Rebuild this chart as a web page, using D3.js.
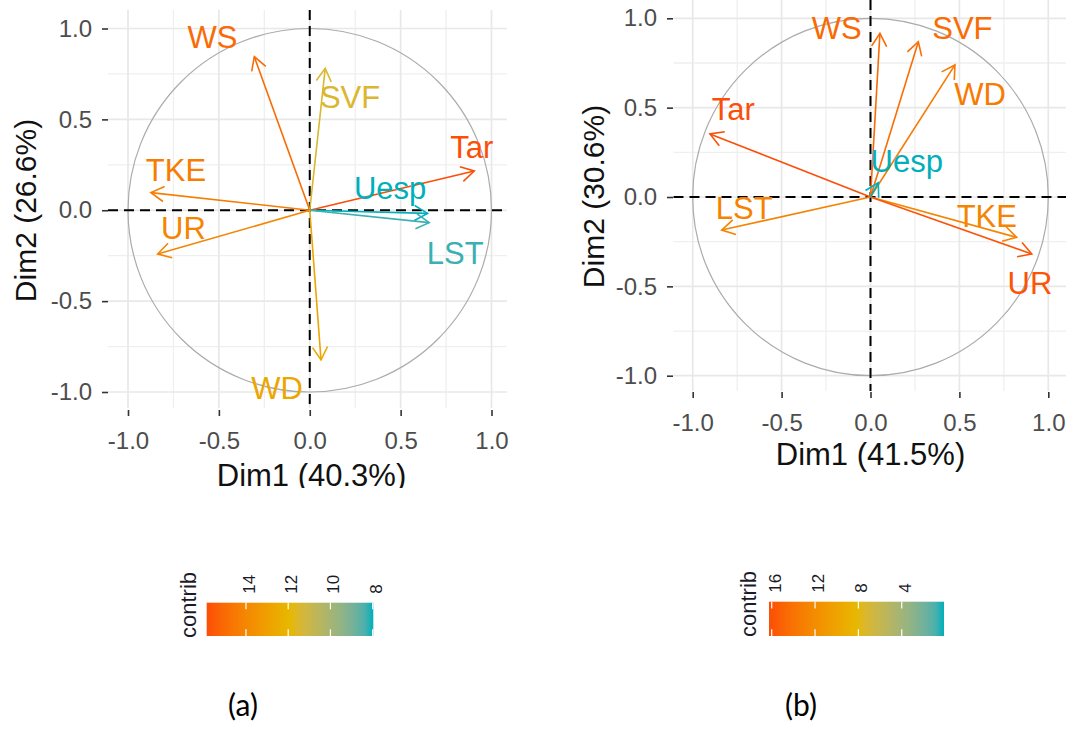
<!DOCTYPE html>
<html>
<head>
<meta charset="utf-8">
<script src="https://cdn.jsdelivr.net/npm/d3@7"></script>
<style>
  html, body { margin: 0; padding: 0; background: #fff; }
  svg { display: block; }
</style>
</head>
<body>
<svg id="chart" width="1066" height="753"></svg>
<script>
// ---- Variable correlation circles, PCA Dim1 x Dim2 ----
const axisTicks = [-1, -0.5, 0, 0.5, 1];
const axisTickLabels = ["-1.0", "-0.5", "0.0", "0.5", "1.0"];
const minorTicks = [-0.75, -0.25, 0.25, 0.75];

// Panel (a)
const varsA     = ["WS", "SVF", "Tar", "TKE", "UR", "Uesp", "LST", "WD"];
const dim1A     = [-0.305, 0.085, 0.905, -0.874, -0.837, 0.648, 0.657, 0.062];
const dim2A     = [0.845, 0.781, 0.216, 0.097, -0.241, -0.017, -0.068, -0.824];
const contribA  = [15.0, 11.5, 15.86, 14.4, 14.1, 7.97, 8.2, 12.7];
const labelDim1A = [-0.535, 0.222, 0.891, -0.736, -0.695, 0.442, 0.800, -0.180];
const labelDim2A = [0.953, 0.625, 0.348, 0.221, -0.095, 0.122, -0.237, -0.978];
const xTitleA = "Dim1 (40.3%)";
const yTitleA = "Dim2 (26.6%)";
const legendTicksA = [14, 12, 10, 8];

// Panel (b)
const varsB     = ["WS", "SVF", "WD", "Tar", "LST", "TKE", "UR", "Uesp"];
const dim1B     = [0.053, 0.269, 0.475, -0.903, -0.837, 0.822, 0.907, 0.044];
const dim2B     = [0.916, 0.869, 0.739, 0.353, -0.185, -0.226, -0.319, 0.080];
const contribB  = [14.6, 14.35, 13.4, 16.25, 12.75, 12.6, 15.9, 0.1];
const labelDim1B = [-0.190, 0.517, 0.616, -0.772, -0.710, 0.654, 0.897, 0.204];
const labelDim2B = [0.949, 0.949, 0.575, 0.491, -0.059, -0.105, -0.478, 0.204];
const xTitleB = "Dim1 (41.5%)";
const yTitleB = "Dim2 (30.6%)";
const legendTicksB = [16, 12, 8, 4];

const gradientColors = ["#00AFBB", "#E7B800", "#FC4E07"];
const captions = ["(a)", "(b)"];

const FONT = "'Liberation Sans', Arial, sans-serif";
const svg = d3.select("#chart");
const defs = svg.append("defs");

// Page geometry of each figure
const layouts = [
  {
    xRange: [128, 491.5], yRange: [392, 28.5],
    panel: { left: 108, right: 507, top: 10, bottom: 408 },
    xAxisY: 410, yAxisX: 108,
    xTitle: { x: 311.5, y: 486 }, yTitle: { x: 36, y: 210.5 },
    legend: { x0: 206.7, x1: 373.3, y0: 602.7, y1: 636, titleX: 196, titleY: 638 },
    clip: { x: 0, y: 0, w: 540, h: 488 },
    caption: { x: 243, y: 716 }
  },
  {
    xRange: [692.7, 1048.3], yRange: [375.7, 18.3],
    panel: { left: 673.5, right: 1066, top: 0, bottom: 391 },
    xAxisY: 392, yAxisX: 673,
    xTitle: { x: 870.5, y: 465 }, yTitle: { x: 604, y: 196.5 },
    legend: { x0: 769, x1: 944, y0: 601.7, y1: 636, titleX: 756, titleY: 637 },
    clip: { x: 540, y: 0, w: 526, h: 560 },
    caption: { x: 801, y: 716 }
  }
];

const datasets = [
  { vars: varsA, d1: dim1A, d2: dim2A, contrib: contribA, lx: labelDim1A, ly: labelDim2A,
    xTitle: xTitleA, yTitle: yTitleA, legendTicks: legendTicksA },
  { vars: varsB, d1: dim1B, d2: dim2B, contrib: contribB, lx: labelDim1B, ly: labelDim2B,
    xTitle: xTitleB, yTitle: yTitleB, legendTicks: legendTicksB }
];

const tickLabel = d => axisTickLabels[axisTicks.indexOf(d)];

datasets.forEach((ds, i) => {
  const L = layouts[i];
  const clipId = "clip" + i;
  defs.append("clipPath").attr("id", clipId)
    .append("rect").attr("x", L.clip.x).attr("y", L.clip.y)
    .attr("width", L.clip.w).attr("height", L.clip.h);
  const g = svg.append("g").attr("clip-path", `url(#${clipId})`);

  const x = d3.scaleLinear().domain([-1, 1]).range(L.xRange);
  const y = d3.scaleLinear().domain([-1, 1]).range(L.yRange);
  const P = L.panel;

  const [cMin, cMax] = d3.extent(ds.contrib);
  const color = d3.scaleLinear()
    .domain([cMin, (cMin + cMax) / 2, cMax])
    .range(gradientColors)
    .interpolate(d3.interpolateLab);

  // grid
  const grid = g.append("g");
  grid.selectAll(".vminor").data(minorTicks).join("line")
    .attr("x1", d => x(d)).attr("x2", d => x(d)).attr("y1", P.top).attr("y2", P.bottom)
    .attr("stroke", "#EFEFEF").attr("stroke-width", 1.3);
  grid.selectAll(".hminor").data(minorTicks).join("line")
    .attr("y1", d => y(d)).attr("y2", d => y(d)).attr("x1", P.left).attr("x2", P.right)
    .attr("stroke", "#EFEFEF").attr("stroke-width", 1.3);
  grid.selectAll(".vmajor").data(axisTicks).join("line")
    .attr("x1", d => x(d)).attr("x2", d => x(d)).attr("y1", P.top).attr("y2", P.bottom)
    .attr("stroke", "#E8E8E8").attr("stroke-width", 1.7);
  grid.selectAll(".hmajor").data(axisTicks).join("line")
    .attr("y1", d => y(d)).attr("y2", d => y(d)).attr("x1", P.left).attr("x2", P.right)
    .attr("stroke", "#E8E8E8").attr("stroke-width", 1.7);

  // unit circle
  g.append("ellipse")
    .attr("cx", x(0)).attr("cy", y(0))
    .attr("rx", x(1) - x(0)).attr("ry", y(0) - y(1))
    .attr("fill", "none").attr("stroke", "#ABABAB").attr("stroke-width", 1.2);

  // reference lines at zero
  g.append("line").attr("x1", P.left).attr("x2", P.right).attr("y1", y(0)).attr("y2", y(0))
    .attr("stroke", "#000").attr("stroke-width", 2).attr("stroke-dasharray", "10,6");
  g.append("line").attr("y1", P.top).attr("y2", P.bottom).attr("x1", x(0)).attr("x2", x(0))
    .attr("stroke", "#000").attr("stroke-width", 2).attr("stroke-dasharray", "10,6");

  // axes
  const xAxis = d3.axisBottom(x).tickValues(axisTicks).tickFormat(tickLabel)
    .tickSize(6).tickPadding(16);
  const yAxis = d3.axisLeft(y).tickValues(axisTicks).tickFormat(tickLabel)
    .tickSize(6).tickPadding(10);
  const gx = g.append("g").attr("transform", `translate(0,${L.xAxisY})`).call(xAxis);
  const gy = g.append("g").attr("transform", `translate(${L.yAxisX},0)`).call(yAxis);
  [gx, gy].forEach(a => {
    a.select(".domain").remove();
    a.selectAll(".tick line").attr("stroke", "#333").attr("stroke-width", 1.6);
    a.selectAll(".tick text").attr("fill", "#4D4D4D")
      .style("font-family", FONT).style("font-size", "24px");
  });

  // axis titles
  g.append("text").attr("x", L.xTitle.x).attr("y", L.xTitle.y)
    .attr("text-anchor", "middle").attr("fill", "#111")
    .style("font-family", FONT).style("font-size", "31px").text(ds.xTitle);
  g.append("text")
    .attr("transform", `translate(${L.yTitle.x},${L.yTitle.y}) rotate(-90)`)
    .attr("text-anchor", "middle").attr("fill", "#111")
    .style("font-family", FONT).style("font-size", "30px").text(ds.yTitle);

  // arrows
  const idx = d3.range(ds.vars.length);
  const headLen = 15, headAngle = Math.PI / 6;
  const arrows = g.append("g");
  idx.forEach(k => {
    const x0 = x(0), y0 = y(0), x1 = x(ds.d1[k]), y1 = y(ds.d2[k]);
    const ang = Math.atan2(y1 - y0, x1 - x0);
    const c = color(ds.contrib[k]);
    arrows.append("line")
      .attr("x1", x0).attr("y1", y0).attr("x2", x1).attr("y2", y1)
      .attr("stroke", c).attr("stroke-width", 1.6);
    const bx1 = x1 - headLen * Math.cos(ang - headAngle);
    const by1 = y1 - headLen * Math.sin(ang - headAngle);
    const bx2 = x1 - headLen * Math.cos(ang + headAngle);
    const by2 = y1 - headLen * Math.sin(ang + headAngle);
    arrows.append("path")
      .attr("d", `M${bx1},${by1}L${x1},${y1}L${bx2},${by2}`)
      .attr("fill", "none").attr("stroke", c).attr("stroke-width", 1.6)
      .attr("stroke-linejoin", "miter");
  });

  // variable labels
  const labelSize = 31;
  g.append("g").selectAll("text").data(idx).join("text")
    .attr("x", k => x(ds.lx[k]))
    .attr("y", k => y(ds.ly[k]) + 0.358 * labelSize)
    .attr("text-anchor", "middle")
    .attr("fill", k => color(ds.contrib[k]))
    .style("font-family", FONT).style("font-size", labelSize + "px")
    .text(k => ds.vars[k]);

  // colour bar legend (max on the left)
  const Lg = L.legend;
  const lx = d3.scaleLinear().domain([cMax, cMin]).range([Lg.x0, Lg.x1]);
  const gradId = "grad" + i;
  const grad = defs.append("linearGradient").attr("id", gradId)
    .attr("x1", "0%").attr("x2", "100%").attr("y1", "0%").attr("y2", "0%");
  d3.range(0, 1.0001, 0.05).forEach(t => {
    grad.append("stop").attr("offset", (t * 100) + "%")
      .attr("stop-color", color(cMax + (cMin - cMax) * t));
  });
  const lg = svg.append("g");
  lg.append("rect").attr("x", Lg.x0).attr("y", Lg.y0)
    .attr("width", Lg.x1 - Lg.x0).attr("height", Lg.y1 - Lg.y0)
    .attr("fill", `url(#${gradId})`);
  const barH = Lg.y1 - Lg.y0;
  ds.legendTicks.forEach(v => {
    const px = lx(v);
    lg.append("line").attr("x1", px).attr("x2", px)
      .attr("y1", Lg.y0).attr("y2", Lg.y0 + barH / 5)
      .attr("stroke", "#fff").attr("stroke-width", 1.2);
    lg.append("line").attr("x1", px).attr("x2", px)
      .attr("y1", Lg.y1 - barH / 5).attr("y2", Lg.y1)
      .attr("stroke", "#fff").attr("stroke-width", 1.2);
    lg.append("text")
      .attr("transform", `translate(${px + 9},${Lg.y0 - 9}) rotate(-90)`)
      .attr("text-anchor", "start").attr("fill", "#1a1a2a")
      .style("font-family", FONT).style("font-size", "17px")
      .text(v);
  });
  lg.append("text")
    .attr("transform", `translate(${Lg.titleX},${Lg.titleY}) rotate(-90)`)
    .attr("text-anchor", "start").attr("fill", "#1a1a2a")
    .style("font-family", FONT).style("font-size", "22px")
    .text("contrib");

  // figure caption
  svg.append("text").attr("x", L.caption.x).attr("y", L.caption.y)
    .attr("text-anchor", "middle").attr("fill", "#000")
    .style("font-family", "Lato, 'Open Sans', sans-serif").style("font-size", "30px")
    .text(captions[i]);
});
</script>
</body>
</html>
